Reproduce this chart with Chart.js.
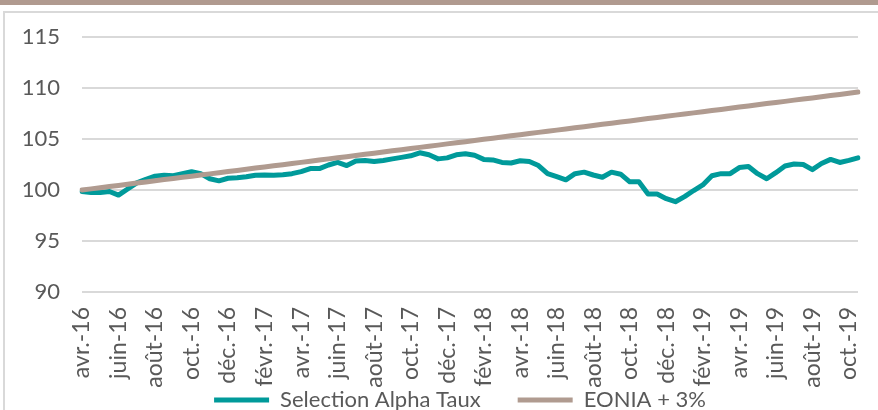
<!DOCTYPE html>
<html><head><meta charset="utf-8">
<script src="https://cdn.jsdelivr.net/npm/chart.js@4.4.1/dist/chart.umd.min.js"></script>
<style>
html,body{margin:0;padding:0;background:#fff;overflow:hidden;width:878px;height:410px;}
#band{position:absolute;left:0;top:0;width:878px;height:5px;background:#b09a8f;}
#frame{position:absolute;left:3px;top:11px;width:900px;height:440px;border:2px solid #d9d9d9;box-sizing:border-box;}
#wrap{position:absolute;left:0;top:0;width:878px;height:410px;}
</style></head><body>
<div id="band"></div><div id="frame"></div>
<div id="wrap"><canvas id="c" width="878" height="410"></canvas></div>
<script>
// Tick labels shown every two months
const tickLabels = ['avr.-16','juin-16','août-16','oct.-16','déc.-16','févr.-17','avr.-17','juin-17','août-17','oct.-17','déc.-17','févr.-18','avr.-18','juin-18','août-18','oct.-18','déc.-18','févr.-19','avr.-19','juin-19','août-19','oct.-19'];
const moisFr = ['janv.','févr.','mars','avr.','mai','juin','juil.','août','sept.','oct.','nov.','déc.'];
// Half-month observations from 1 April 2016 to mid-October 2019
const selectionAlphaTaux = [99.85,99.75,99.75,99.85,99.5,100.1,100.7,101.05,101.35,101.45,
101.4,101.6,101.8,101.6,101.1,100.9,101.15,101.2,101.3,101.45,
101.47,101.45,101.5,101.6,101.8,102.1,102.1,102.45,102.7,102.4,
102.85,102.9,102.8,102.9,103.05,103.2,103.35,103.65,103.45,103.05,
103.15,103.45,103.55,103.4,103.0,102.95,102.7,102.65,102.87,102.8,
102.4,101.6,101.3,101.0,101.6,101.75,101.47,101.25,101.75,101.55,
100.8,100.8,99.6,99.6,99.15,98.85,99.35,99.95,100.5,101.4,
101.6,101.6,102.2,102.3,101.6,101.1,101.7,102.35,102.55,102.5,
102.0,102.6,103.0,102.7,102.9,103.15];
const eoniaPlus3 = [100.00,100.11,100.23,100.34,100.45,100.56,100.68,100.79,100.90,101.02,
101.13,101.24,101.35,101.47,101.58,101.69,101.81,101.92,102.03,102.15,
102.26,102.37,102.48,102.60,102.71,102.82,102.94,103.05,103.16,103.27,
103.39,103.50,103.61,103.73,103.84,103.95,104.06,104.18,104.29,104.40,
104.52,104.63,104.74,104.85,104.97,105.08,105.19,105.31,105.42,105.53,
105.65,105.76,105.87,105.98,106.10,106.21,106.32,106.44,106.55,106.66,
106.77,106.89,107.00,107.11,107.23,107.34,107.45,107.56,107.68,107.79,
107.90,108.02,108.13,108.24,108.36,108.47,108.58,108.69,108.81,108.92,
109.03,109.15,109.26,109.37,109.48,109.60];

const categories = selectionAlphaTaux.map((_, i) => {
  const m = 3 + Math.floor(i / 2);
  const yy = 16 + Math.floor(m / 12);
  return (i % 2 ? '15 ' : '1 ') + moisFr[m % 12] + '-' + yy;
});

const teal = '#009a9a';
const taupe = '#b09b90';
const txt = '#595959';
const fontY = {family: 'Lato', size: 22};
const fontX = {family: 'Lato', size: 23};

const adjust = {
  id: 'adjust',
  afterLayout(chart) {
    const l = chart.legend;
    if (l) { l.left += 20; l.right += 20; }
    chart.scales.x.bottom = 405; // let rotated labels draw fully (label clip area)
  }
};

new Chart(document.getElementById('c'), {
  type: 'line',
  data: {
    labels: categories,
    datasets: [
      {label: 'Selection Alpha Taux', data: selectionAlphaTaux, borderColor: teal, backgroundColor: teal,
       borderWidth: 5, pointRadius: 0, tension: 0, borderCapStyle: 'round', borderJoinStyle: 'round', order: 1},
      {label: 'EONIA + 3%', data: eoniaPlus3, borderColor: taupe, backgroundColor: taupe,
       borderWidth: 5, pointRadius: 0, tension: 0, borderCapStyle: 'round', borderJoinStyle: 'round', order: 0}
    ]
  },
  options: {
    responsive: false, animation: false,
    layout: {padding: {left: 22, right: 20, top: 37, bottom: -11}},
    plugins: {
      legend: {position: 'bottom',
        labels: {usePointStyle: true, pointStyle: 'line', pointStyleWidth: 55, padding: 37,
          color: txt, font: fontY, sort: (a, b) => a.datasetIndex - b.datasetIndex}},
      tooltip: {enabled: false}
    },
    scales: {
      x: {
        grid: {display: false, drawTicks: false}, border: {display: false},
        ticks: {autoSkip: false, maxRotation: 90, minRotation: 90, padding: 15, color: txt, font: fontX,
          callback: (v) => tickLabels[v / 4]},
        afterBuildTicks: s => { s.ticks = s.ticks.filter(t => t.value % 4 === 0); },
        afterFit: s => { s.height = 60; s.paddingLeft = 0; s.paddingRight = 0; }
      },
      y: {
        min: 90, max: 115,
        ticks: {stepSize: 5, padding: 22, color: txt, font: fontY},
        grid: {color: '#d9d9d9', lineWidth: 2, drawTicks: false}, border: {display: false},
        afterFit: s => { s.width = 60; }
      }
    }
  },
  plugins: [adjust]
});
</script>
</body></html>
